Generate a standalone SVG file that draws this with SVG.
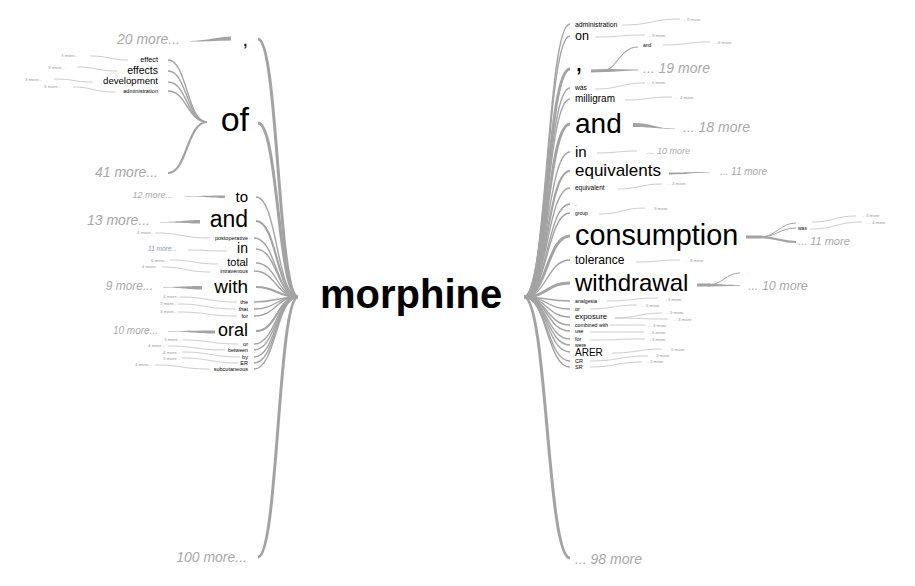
<svg xmlns="http://www.w3.org/2000/svg" width="915" height="586" viewBox="0 0 915 586">
<style>
text{font-family:"Liberation Sans",Arial,sans-serif;}
.w{fill:#000;}
.l{text-anchor:end;}
.m{fill:#a8a8a8;font-style:italic;}
.ms{fill:#999;}
.c{fill:none;stroke:#a3a3a3;stroke-width:1.4;}
.c2{fill:none;stroke:#a3a3a3;stroke-width:2.2;}
.c3{fill:none;stroke:#a3a3a3;stroke-width:3;}
.s{fill:none;stroke:#c6c6c6;stroke-width:0.9;}
.t{fill:#a3a3a3;stroke:none;}
</style>
<rect width="915" height="586" fill="#fff"/>
<g id="connectors">
<path class="c3" d="M258,39 C278,39 278,297 298,297"/>
<path class="c3" d="M258,123 C278,123 278,297 298,297"/>
<path class="c" d="M256,197 C277,197 277,297 298,297"/>
<path class="c2" d="M256,221 C277,221 277,297 298,297"/>
<path class="c" d="M254,238 C276,238 276,297 298,297"/>
<path class="c" d="M256,249 C277,249 277,297 298,297"/>
<path class="c" d="M256,263 C277,263 277,297 298,297"/>
<path class="c" d="M254,271 C276,271 276,297 298,297"/>
<path class="c2" d="M256,287 C277,287 277,297 298,297"/>
<path class="c" d="M254,302 C276,302 276,297 298,297"/>
<path class="c" d="M254,309 C276,309 276,297 298,297"/>
<path class="c" d="M254,316 C276,316 276,297 298,297"/>
<path class="c2" d="M256,331 C277,331 277,297 298,297"/>
<path class="c" d="M254,344 C276,344 276,297 298,297"/>
<path class="c" d="M254,350 C276,350 276,297 298,297"/>
<path class="c" d="M254,357 C276,357 276,297 298,297"/>
<path class="c" d="M254,363 C276,363 276,297 298,297"/>
<path class="c" d="M254,369 C276,369 276,297 298,297"/>
<path class="c3" d="M258,557 C278,557 278,297 298,297"/>
<path class="c" d="M570,24 C547,24 547,297 524,297"/>
<path class="c" d="M570,36 C547,36 547,297 524,297"/>
<path class="c3" d="M570,69 C547,69 547,297 524,297"/>
<path class="c" d="M570,88 C547,88 547,297 524,297"/>
<path class="c" d="M570,99 C547,99 547,297 524,297"/>
<path class="c3" d="M570,124 C547,124 547,297 524,297"/>
<path class="c" d="M570,152 C547,152 547,297 524,297"/>
<path class="c2" d="M570,171 C547,171 547,297 524,297"/>
<path class="c" d="M570,188 C547,188 547,297 524,297"/>
<path class="c" d="M570,204 C547,204 547,297 524,297"/>
<path class="c" d="M570,213 C547,213 547,297 524,297"/>
<path class="c3" d="M570,236 C547,236 547,297 524,297"/>
<path class="c" d="M570,260 C547,260 547,297 524,297"/>
<path class="c3" d="M570,283 C547,283 547,297 524,297"/>
<path class="c" d="M570,301 C547,301 547,297 524,297"/>
<path class="c" d="M570,309 C547,309 547,297 524,297"/>
<path class="c" d="M570,317 C547,317 547,297 524,297"/>
<path class="c" d="M570,325 C547,325 547,297 524,297"/>
<path class="c" d="M570,331 C547,331 547,297 524,297"/>
<path class="c" d="M570,339 C547,339 547,297 524,297"/>
<path class="c" d="M570,345 C547,345 547,297 524,297"/>
<path class="c" d="M570,352 C547,352 547,297 524,297"/>
<path class="c" d="M570,361 C547,361 547,297 524,297"/>
<path class="c" d="M570,367 C547,367 547,297 524,297"/>
<path class="c3" d="M570,558 C547,558 547,297 524,297"/>
<path class="t" d="M190,41 C205,41 215,37 231,36.5 L231,40.5 C215,41 205,41.5 190,41.5 Z"/>
<path class="c" d="M168,60 C187,60 187,122 207,122"/>
<path class="c" d="M168,71 C187,71 187,122 207,122"/>
<path class="c" d="M168,82 C187,82 187,122 207,122"/>
<path class="c" d="M168,91 C187,91 187,122 207,122"/>
<path class="c2" d="M168,173 C187,173 187,122 207,122"/>
<path class="s" d="M90,56 C110,56 110,60 128,60"/>
<path class="s" d="M77,67 C97,67 97,71 117,71"/>
<path class="s" d="M54,79 C74,79 74,82 93,82"/>
<path class="s" d="M73,87 C93,87 93,92 115,92"/>
<path class="t" d="M185,196 C205,196 210,195.5 225,195.5 L225,198 C210,198 205,196.5 185,196.5 Z"/>
<path class="t" d="M160,222 C180,222 185,220 200,220 L200,223.5 C185,223.5 180,222.5 160,222.5 Z"/>
<path class="s" d="M155,233 C182,233 182,238 210,238"/>
<path class="s" d="M188,250 C207,250 207,251 227,251"/>
<path class="s" d="M170,260 C194,260 194,264 218,264"/>
<path class="s" d="M162,267 C186,267 186,272 210,272"/>
<path class="t" d="M163,287 C182,287 185,286 202,286 L202,289.5 C185,289.5 182,287.5 163,287.5 Z"/>
<path class="s" d="M180,297 C208,297 208,302 237,302"/>
<path class="s" d="M178,304 C206,304 206,309 235,309"/>
<path class="s" d="M178,312 C207,312 207,316 237,316"/>
<path class="t" d="M168,331 C190,331 195,330.5 215,330.5 L215,333.5 C195,333.5 190,331.5 168,331.5 Z"/>
<path class="s" d="M183,340 C210,340 210,344 238,344"/>
<path class="s" d="M168,346 C196,346 196,350 225,350"/>
<path class="s" d="M182,352 C211,352 211,357 240,357"/>
<path class="s" d="M182,358 C210,358 210,363 238,363"/>
<path class="s" d="M155,365 C182,365 182,369 210,369"/>
<path class="s" d="M622,25 C652,25 652,19 680,19"/>
<path class="s" d="M595,37 C620,37 620,35 645,35"/>
<path class="c3" d="M591,71 L606,70.5"/>
<path class="c" d="M604,70.5 C616,70.5 620,47 638,47" style="stroke-width:1.1"/>
<path class="t" d="M604,69 C615,69 625,69.5 638,69.6 L638,70.4 C625,70.5 615,72 604,72 Z"/>
<path class="s" d="M663,45 C687,45 687,42 710,42"/>
<path class="s" d="M595,89 C620,89 620,83 645,83"/>
<path class="s" d="M625,100 C648,100 648,97 672,97"/>
<path class="t" d="M633,123 C652,123 655,128.5 675,128.5 L675,129 C655,129 652,127 633,127 Z"/>
<path class="s" d="M597,153 C617,153 617,151 637,151"/>
<path class="t" d="M669,172.5 C688,172.5 690,172 710,172 L710,172.6 C690,173 688,174.5 669,174.5 Z"/>
<path class="s" d="M618,189 C640,189 640,184 662,184"/>
<path class="s" d="M599,214 C622,214 622,208 645,208"/>
<path class="c3" d="M746,237 L762,237"/>
<path class="c" d="M760,237 C776,237 780,223 796,223" style="stroke-width:1"/>
<path class="c" d="M760,237 C776,237 780,228 796,228" style="stroke-width:1"/>
<path class="c2" d="M760,237 C776,237 780,242 796,242"/>
<path class="s" d="M812,222 C834,222 834,216 856,216"/>
<path class="s" d="M810,229 C836,229 836,222 862,222"/>
<path class="s" d="M636,262 C658,262 658,260 680,260"/>
<path class="c3" d="M697,285 L710,285"/>
<path class="c" d="M708,285 C722,285 726,273 740,273" style="stroke-width:1"/>
<path class="t" d="M708,283.5 C720,284 728,285 740,285 L740,285.8 C728,286 720,286.5 708,286.5 Z"/>
<path class="s" d="M607,301 C632,301 632,298 658,298"/>
<path class="s" d="M590,309 C613,309 613,305 637,305"/>
<path class="s" d="M615,318 C638,318 638,313 662,313"/>
<path class="s" d="M615,318 C640,318 640,319 668,319"/>
<path class="s" d="M610,325 C628,325 628,325 645,325"/>
<path class="s" d="M590,332 C617,332 617,332 644,332"/>
<path class="s" d="M590,340 C617,340 617,339 645,339"/>
<path class="s" d="M612,353 C637,353 637,349 662,349"/>
<path class="s" d="M590,361 C619,361 619,356 648,356"/>
<path class="s" d="M590,367 C616,367 616,362 642,362"/>
</g>

<g id="root"><text class="w" x="320" y="308" font-size="40" font-weight="bold">morphine</text></g>

<g id="l-comma"><text class="w l" x="248" y="46" font-size="20">,</text></g>
<g id="l-comma-more"><text class="m l" x="180" y="44" font-size="14">20 more...</text></g>
<g id="l-of"><text class="w l" x="249" y="131" font-size="34">of</text></g>
<g id="l-effect"><text class="w l" x="158" y="62" font-size="7.3">effect</text></g>
<g id="l-effects"><text class="w l" x="158" y="74" font-size="10.5">effects</text></g>
<g id="l-development"><text class="w l" x="158" y="84" font-size="9.6">development</text></g>
<g id="l-administration"><text class="w l" x="158" y="93" font-size="5.6">administration</text></g>
<g id="l-effect-more"><text class="ms" x="61" y="57" font-size="4.4">3 more...</text></g>
<g id="l-effects-more"><text class="ms" x="48" y="69" font-size="4.4">3 more...</text></g>
<g id="l-development-more"><text class="ms" x="25" y="81" font-size="4.4">3 more...</text></g>
<g id="l-administration-more"><text class="ms" x="44" y="88" font-size="4.4">3 more...</text></g>
<g id="l-of-more"><text class="m l" x="158" y="177" font-size="14">41 more...</text></g>
<g id="l-to"><text class="w l" x="248" y="202" font-size="15">to</text></g>
<g id="l-to-more"><text class="m l" x="173" y="198" font-size="9">12 more...</text></g>
<g id="l-and"><text class="w l" x="248" y="227" font-size="23">and</text></g>
<g id="l-and-more"><text class="m l" x="150" y="225" font-size="14">13 more...</text></g>
<g id="l-postoperative"><text class="w l" x="248" y="240" font-size="5.5">postoperative</text></g>
<g id="l-postoperative-more"><text class="ms" x="137" y="234" font-size="4.4">4 more...</text></g>
<g id="l-in"><text class="w l" x="248" y="253" font-size="14">in</text></g>
<g id="l-in-more"><text x="148" y="251" font-size="6.5" font-style="italic" style="fill:#8c96b4">11 more...</text></g>
<g id="l-total"><text class="w l" x="248" y="266" font-size="11">total</text></g>
<g id="l-total-more"><text class="ms" x="151" y="262" font-size="4.4">6 more...</text></g>
<g id="l-intravenous"><text class="w l" x="248" y="273" font-size="5.4">intravenous</text></g>
<g id="l-intravenous-more"><text class="ms" x="142" y="268" font-size="4.4">4 more...</text></g>
<g id="l-with"><text class="w l" x="248" y="293" font-size="19">with</text></g>
<g id="l-with-more"><text class="m l" x="153" y="290" font-size="12">9 more...</text></g>
<g id="l-the"><text class="w l" x="248" y="304" font-size="5.6">the</text></g>
<g id="l-the-more"><text class="ms" x="163" y="298" font-size="4.4">4 more...</text></g>
<g id="l-that"><text class="w l" x="248" y="311" font-size="5.6">that</text></g>
<g id="l-that-more"><text class="ms" x="160" y="305" font-size="4.4">3 more...</text></g>
<g id="l-for"><text class="w l" x="248" y="318" font-size="5.6">for</text></g>
<g id="l-for-more"><text class="ms" x="160" y="313" font-size="4.4">3 more...</text></g>
<g id="l-oral"><text class="w l" x="248" y="336" font-size="18">oral</text></g>
<g id="l-oral-more"><text class="m l" x="158" y="334" font-size="10">10 more...</text></g>
<g id="l-or"><text class="w l" x="248" y="346" font-size="5.6">or</text></g>
<g id="l-or-more"><text class="ms" x="164" y="341" font-size="4.4">3 more...</text></g>
<g id="l-between"><text class="w l" x="248" y="352" font-size="5.3">between</text></g>
<g id="l-between-more"><text class="ms" x="148" y="347" font-size="4.4">4 more...</text></g>
<g id="l-by"><text class="w l" x="248" y="359" font-size="5.6">by</text></g>
<g id="l-by-more"><text class="ms" x="163" y="354" font-size="4.4">4 more...</text></g>
<g id="l-ER"><text class="w l" x="248" y="365" font-size="5.6">ER</text></g>
<g id="l-ER-more"><text class="ms" x="163" y="360" font-size="4.4">3 more...</text></g>
<g id="l-subcutaneous"><text class="w l" x="248" y="371" font-size="5.5">subcutaneous</text></g>
<g id="l-subcutaneous-more"><text class="ms" x="135" y="366" font-size="4.4">4 more...</text></g>
<g id="l-more"><text class="m l" x="247" y="562" font-size="14">100 more...</text></g>

<g id="r-administration"><text class="w" x="575" y="27" font-size="6.8">administration</text></g>
<g id="r-administration-more"><text class="ms" x="682" y="21" font-size="4.4">... 6 more</text></g>
<g id="r-on"><text class="w" x="575" y="40" font-size="12.5">on</text></g>
<g id="r-on-more"><text class="ms" x="647" y="37" font-size="4.4">... 9 more</text></g>
<g id="r-comma"><text class="w" x="575" y="71" font-size="28">,</text></g>
<g id="r-comma-and"><text class="w" x="643" y="47" font-size="5">and</text></g>
<g id="r-comma-and-more"><text class="ms" x="713" y="44" font-size="4.4">... 6 more</text></g>
<g id="r-comma-more"><text class="m" x="643" y="73" font-size="14">... 19 more</text></g>
<g id="r-was"><text class="w" x="575" y="90" font-size="6.7">was</text></g>
<g id="r-was-more"><text class="ms" x="647" y="84" font-size="4.4">... 6 more</text></g>
<g id="r-milligram"><text class="w" x="575" y="102" font-size="10">milligram</text></g>
<g id="r-milligram-more"><text class="ms" x="675" y="99" font-size="4.4">... 4 more</text></g>
<g id="r-and"><text class="w" x="575" y="133" font-size="28">and</text></g>
<g id="r-and-more"><text class="m" x="683" y="132" font-size="14">... 18 more</text></g>
<g id="r-in"><text class="w" x="575" y="157" font-size="15">in</text></g>
<g id="r-in-more"><text class="m" x="647" y="154" font-size="9">... 10 more</text></g>
<g id="r-equivalents"><text class="w" x="575" y="176" font-size="17">equivalents</text></g>
<g id="r-equivalents-more"><text class="m" x="720" y="175" font-size="10">... 11 more</text></g>
<g id="r-equivalent"><text class="w" x="575" y="190" font-size="6.5">equivalent</text></g>
<g id="r-equivalent-more"><text class="ms" x="667" y="185" font-size="4.4">... 4 more</text></g>
<g id="r-dot"><text class="w" x="575" y="206" font-size="6">.</text></g>
<g id="r-group"><text class="w" x="575" y="215" font-size="5">group</text></g>
<g id="r-group-more"><text class="ms" x="649" y="210" font-size="4.4">... 3 more</text></g>
<g id="r-consumption"><text class="w" x="575" y="245" font-size="28.8">consumption</text></g>
<g id="r-consumption-dot"><text x="798" y="224" font-size="5" style="fill:#a04040">.</text></g>
<g id="r-consumption-was"><text class="w" x="798" y="230" font-size="5">was</text></g>
<g id="r-consumption-dot-more"><text class="ms" x="861" y="217" font-size="4.4">... 3 more</text></g>
<g id="r-consumption-was-more"><text class="ms" x="867" y="224" font-size="4.4">... 4 more</text></g>
<g id="r-consumption-more"><text class="m" x="798" y="245" font-size="11">... 11 more</text></g>
<g id="r-tolerance"><text class="w" x="575" y="264" font-size="12">tolerance</text></g>
<g id="r-tolerance-more"><text class="ms" x="685" y="262" font-size="4.4">... 8 more</text></g>
<g id="r-withdrawal"><text class="w" x="575" y="291" font-size="24">withdrawal</text></g>
<g id="r-withdrawal-dot"><text x="748" y="274" font-size="5" style="fill:#a04040">.</text></g>
<g id="r-withdrawal-more"><text class="m" x="748" y="290" font-size="12.5">... 10 more</text></g>
<g id="r-analgesia"><text class="w" x="575" y="303" font-size="5.2">analgesia</text></g>
<g id="r-analgesia-more"><text class="ms" x="663" y="300.5" font-size="4.4">... 3 more</text></g>
<g id="r-or"><text class="w" x="575" y="311" font-size="5.5">or</text></g>
<g id="r-or-more"><text class="ms" x="641" y="306.5" font-size="4.4">... 5 more</text></g>
<g id="r-exposure"><text class="w" x="575" y="319" font-size="7.8">exposure</text></g>
<g id="r-exposure-more1"><text class="ms" x="665" y="314" font-size="4.4">... 5 more</text></g>
<g id="r-exposure-more2"><text class="ms" x="673" y="321" font-size="4.4">... 3 more</text></g>
<g id="r-combined"><text class="w" x="575" y="327" font-size="5.2">combined with</text></g>
<g id="r-combined-more"><text class="ms" x="648" y="326.5" font-size="4.4">... 3 more</text></g>
<g id="r-use"><text class="w" x="575" y="332.5" font-size="5.2">use</text></g>
<g id="r-use-more"><text class="ms" x="647" y="334" font-size="4.4">... 5 more</text></g>
<g id="r-for"><text class="w" x="575" y="341" font-size="5.5">for</text></g>
<g id="r-for-more"><text class="ms" x="647" y="341" font-size="4.4">... 4 more</text></g>
<g id="r-were"><text class="w" x="575" y="347" font-size="5.2">were</text></g>
<g id="r-ARER"><text class="w" x="575" y="356" font-size="10">ARER</text></g>
<g id="r-ARER-more"><text class="ms" x="666" y="351" font-size="4.4">... 5 more</text></g>
<g id="r-CR"><text class="w" x="575" y="363" font-size="5.5">CR</text></g>
<g id="r-CR-more"><text class="ms" x="651" y="357" font-size="4.4">... 3 more</text></g>
<g id="r-SR"><text class="w" x="575" y="369" font-size="5.5">SR</text></g>
<g id="r-SR-more"><text class="ms" x="645" y="363" font-size="4.4">... 3 more</text></g>
<g id="r-more"><text class="m" x="575" y="564" font-size="14">... 98 more</text></g>
</svg>
